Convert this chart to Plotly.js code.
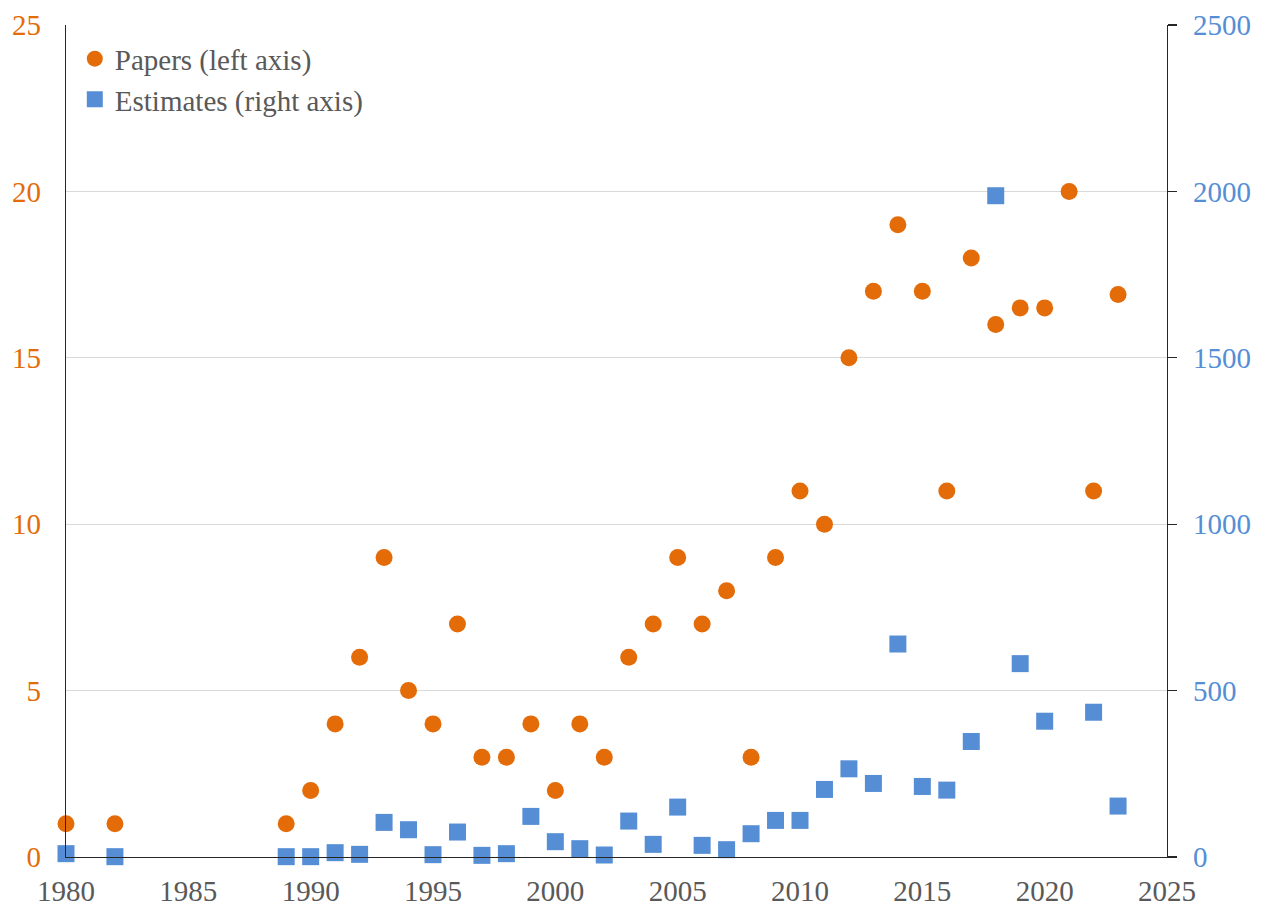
<!DOCTYPE html>
<html>
<head>
<meta charset="utf-8">
<script src="https://cdn.plot.ly/plotly-3.0.1.min.js"></script>
<style>html,body{margin:0;padding:0;background:#fff;}#chart{width:1264px;height:912px;}</style>
</head>
<body>
<div id="chart"></div>
<script>
const paperYears = [1980,1982,1989,1990,1991,1992,1993,1994,1995,1996,1997,1998,1999,2000,2001,2002,2003,2004,2005,2006,2007,2008,2009,2010,2011,2012,2013,2014,2015,2016,2017,2018,2019,2020,2021,2022,2023];
const papers = [1,1,1,2,4,6,9,5,4,7,3,3,4,2,4,3,6,7,9,7,8,3,9,11,10,15,17,19,17,11,18,16,16.5,16.5,20,11,16.9];
const estimateYears = [1980,1982,1989,1990,1991,1992,1993,1994,1995,1996,1997,1998,1999,2000,2001,2002,2003,2004,2005,2006,2007,2008,2009,2010,2011,2012,2013,2014,2015,2016,2017,2018,2019,2020,2022,2023];
const estimates = [10,1,1,1,13,8,104,82,7,75,5,10,122,46,25,6,108,38,150,35,22,70,110,110,203,265,221,640,212,201,347,1987,581,408,435,153];
const xTicks = [1980,1985,1990,1995,2000,2005,2010,2015,2020,2025];

const orange = '#E36C09';
const blue = '#558ED5';
const grey = '#595959';
const font = 'Liberation Serif, Times New Roman, serif';
const fs = 29;

const traces = [
  {x: paperYears, y: papers, type: 'scatter', mode: 'markers', name: 'Papers (left axis)',
   marker: {symbol: 'circle', size: 17, color: orange}, cliponaxis: false, yaxis: 'y'},
  {x: estimateYears, y: estimates, type: 'scatter', mode: 'markers', name: 'Estimates (right axis)',
   marker: {symbol: 'square', size: 17, color: blue}, cliponaxis: false, yaxis: 'y2'}
];

const layout = {
  width: 1264, height: 912,
  margin: {l: 66, r: 97, t: 25, b: 55},
  paper_bgcolor: '#fff', plot_bgcolor: '#fff',
  font: {family: font, size: fs, color: grey},
  showlegend: true,
  legend: {x: 0.008, y: 0.99, xanchor: 'left', yanchor: 'top', bgcolor: 'rgba(0,0,0,0)',
           font: {family: font, size: fs, color: grey}, itemwidth: 30},
  xaxis: {range: [1980, 2025], tickvals: xTicks, ticktext: xTicks.map(String),
          showgrid: false, zeroline: false, showline: true, linecolor: '#262626', linewidth: 1.3,
          ticks: '', ticklabelstandoff: 8, tickfont: {family: font, size: fs, color: grey}},
  yaxis: {range: [0, 25], tickvals: [0,5,10,15,20,25], showgrid: true, gridcolor: '#D9D9D9', gridwidth: 1,
          zeroline: false, showline: true, linecolor: '#262626', linewidth: 1.3, ticks: '',
          ticklabelstandoff: 18, tickfont: {family: font, size: fs, color: orange}},
  yaxis2: {range: [0, 2500], tickvals: [0,500,1000,1500,2000,2500], overlaying: 'y', side: 'right',
           showgrid: false, zeroline: false, showline: true, linecolor: '#262626', linewidth: 1.3,
           ticks: 'outside', ticklen: 9, tickcolor: '#262626', tickwidth: 1.3,
           ticklabelstandoff: 10, tickfont: {family: font, size: fs, color: blue}}
};

Plotly.newPlot('chart', traces, layout, {displayModeBar: false, staticPlot: true});
</script>
</body>
</html>
